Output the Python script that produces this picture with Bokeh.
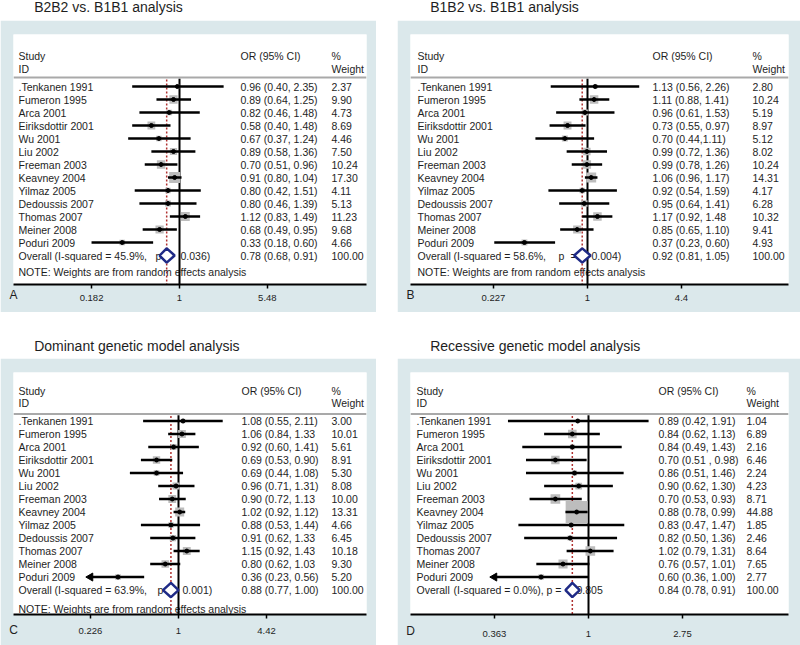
import math
from bokeh.plotting import figure
from bokeh.models import (Range1d, LinearScale, FixedTicker, CustomJSTickFormatter,
                          ColumnDataSource, Spacer)
from bokeh.layouts import row, column
from bokeh.core.properties import value
from bokeh.embed import file_html
from bokeh.resources import INLINE

FONT = "Liberation Sans"

# ---------------- data ----------------
studies = [".Tenkanen 1991", "Fumeron 1995", "Arca 2001", "Eiriksdottir 2001", "Wu 2001",
           "Liu 2002", "Freeman 2003", "Keavney 2004", "Yilmaz 2005", "Dedoussis 2007",
           "Thomas 2007", "Meiner 2008", "Poduri 2009"]

# A: B2B2 vs. B1B1
a_or = [0.96, 0.89, 0.82, 0.58, 0.67, 0.89, 0.70, 0.91, 0.80, 0.80, 1.12, 0.68, 0.33]
a_lo = [0.40, 0.64, 0.46, 0.40, 0.37, 0.58, 0.51, 0.80, 0.42, 0.46, 0.83, 0.49, 0.182]
a_hi = [2.35, 1.25, 1.48, 0.84, 1.24, 1.36, 0.96, 1.04, 1.51, 1.39, 1.49, 0.95, 0.60]
a_wt = [2.37, 9.90, 4.73, 8.69, 4.46, 7.50, 10.24, 17.30, 4.11, 5.13, 11.23, 9.68, 4.66]
a_ci = ["0.96 (0.40, 2.35)", "0.89 (0.64, 1.25)", "0.82 (0.46, 1.48)", "0.58 (0.40, 1.48)",
        "0.67 (0.37, 1.24)", "0.89 (0.58, 1.36)", "0.70 (0.51, 0.96)", "0.91 (0.80, 1.04)",
        "0.80 (0.42, 1.51)", "0.80 (0.46, 1.39)", "1.12 (0.83, 1.49)", "0.68 (0.49, 0.95)",
        "0.33 (0.18, 0.60)"]
a_overall = [0.78, 0.68, 0.91]
a_overall_ci = "0.78 (0.68, 0.91)"
a_overall_parts = ["Overall", "(I-squared = 45.9%,", "p =", "0.036)"]
a_ticks = [0.182, 1, 5.48]
a_tick_labels = ["0.182", "1", "5.48"]

# B: B1B2 vs. B1B1
b_or = [1.13, 1.11, 0.96, 0.73, 0.70, 0.99, 0.99, 1.06, 0.92, 0.95, 1.17, 0.85, 0.37]
b_lo = [0.56, 0.88, 0.61, 0.55, 0.44, 0.72, 0.78, 0.96, 0.54, 0.64, 0.92, 0.65, 0.23]
b_hi = [2.26, 1.41, 1.53, 0.97, 1.11, 1.36, 1.26, 1.17, 1.59, 1.41, 1.48, 1.10, 0.60]
b_wt = [2.80, 10.24, 5.19, 8.97, 5.12, 8.02, 10.24, 14.31, 4.17, 6.28, 10.32, 9.41, 4.93]
b_ci = ["1.13 (0.56, 2.26)", "1.11 (0.88, 1.41)", "0.96 (0.61, 1.53)", "0.73 (0.55, 0.97)",
        "0.70 (0.44,1.11)", "0.99 (0.72, 1.36)", "0.99 (0.78, 1.26)", "1.06 (0.96, 1.17)",
        "0.92 (0.54, 1.59)", "0.95 (0.64, 1.41)", "1.17 (0.92, 1.48", "0.85 (0.65, 1.10)",
        "0.37 (0.23, 0.60)"]
b_overall = [0.92, 0.81, 1.05]
b_overall_ci = "0.92 (0.81, 1.05)"
b_overall_parts = ["Overall", "(I-squared = 58.6%,", "p", "=", "0.004)"]
b_ticks = [0.227, 1, 4.4]
b_tick_labels = ["0.227", "1", "4.4"]

# C: dominant model
c_or = [1.08, 1.06, 0.92, 0.69, 0.69, 0.96, 0.90, 1.02, 0.88, 0.91, 1.15, 0.80, 0.36]
c_lo = [0.55, 0.84, 0.60, 0.53, 0.44, 0.71, 0.72, 0.92, 0.53, 0.62, 0.92, 0.62, 0.225]
c_hi = [2.11, 1.33, 1.41, 0.90, 1.08, 1.31, 1.13, 1.12, 1.44, 1.33, 1.43, 1.03, 0.56]
c_wt = [3.00, 10.01, 5.61, 8.91, 5.30, 8.08, 10.00, 13.31, 4.66, 6.45, 10.18, 9.30, 5.20]
c_ci = ["1.08 (0.55, 2.11)", "1.06 (0.84, 1.33", "0.92 (0.60, 1.41)", "0.69 (0.53, 0.90)",
        "0.69 (0.44, 1.08)", "0.96 (0.71, 1.31)", "0.90 (0.72, 1.13", "1.02 (0.92, 1.12)",
        "0.88 (0.53, 1.44)", "0.91 (0.62, 1.33", "1.15 (0.92, 1.43", "0.80 (0.62, 1.03",
        "0.36 (0.23, 0.56)"]
c_overall = [0.88, 0.77, 1.00]
c_overall_ci = "0.88 (0.77, 1.00)"
c_overall_parts = ["Overall", "(I-squared = 63.9%,", "p =", "0.001)"]
c_ticks = [0.226, 1, 4.42]
c_tick_labels = ["0.226", "1", "4.42"]

# D: recessive model
d_or = [0.89, 0.84, 0.84, 0.70, 0.86, 0.90, 0.70, 0.88, 0.83, 0.82, 1.02, 0.76, 0.60]
d_lo = [0.42, 0.62, 0.49, 0.51, 0.51, 0.62, 0.53, 0.78, 0.47, 0.50, 0.79, 0.57, 0.36]
d_hi = [1.91, 1.13, 1.43, 0.98, 1.46, 1.30, 0.93, 0.99, 1.47, 1.36, 1.31, 1.01, 1.00]
d_wt = [1.04, 6.89, 2.16, 6.46, 2.24, 4.23, 8.71, 44.88, 1.85, 2.46, 8.64, 7.65, 2.77]
d_ci = ["0.89 (0.42, 1.91)", "0.84 (0.62, 1.13)", "0.84 (0.49, 1.43)", "0.70 (0.51 , 0.98)",
        "0.86 (0.51, 1.46)", "0.90 (0.62, 1.30)", "0.70 (0.53, 0.93)", "0.88 (0.78, 0.99)",
        "0.83 (0.47, 1.47)", "0.82 (0.50, 1.36)", "1.02 (0.79, 1.31)", "0.76 (0.57, 1.01)",
        "0.60 (0.36, 1.00)"]
d_overall = [0.84, 0.78, 0.91]
d_overall_ci = "0.84 (0.78, 0.91)"
d_overall_parts = ["Overall", "(I-squared = 0.0%), p =", "0.805"]
d_ticks = [0.363, 1, 2.75]
d_tick_labels = ["0.363", "1", "2.75"]

note_text = "NOTE: Weights are from random effects analysis"

# ---------------- styling / layout ----------------
BG = "#dbe8eb"
TXT = "#1e1e1e"
NAVY = "#1f2a86"
RED = "#b0302f"
BOXC = "#bdbdbd"
FS = "10.5px"

TOP_ROWS = dict(top=-4.0, bottom=15.23, study=-2.38, idr=-1.38, sep=-0.69, note=14.3)
BOT_ROWS = dict(top=-3.73, bottom=14.88, study=-2.27, idr=-1.35, sep=-0.54, note=14.42)


def header(text, width, height, tx, ty):
    h = figure(width=width, height=height, x_range=Range1d(0, width), y_range=Range1d(height, 0),
               output_backend="svg", toolbar_location=None, x_axis_location=None,
               y_axis_location=None, min_border=0, title=None)
    h.outline_line_color = None
    h.grid.visible = False
    h.background_fill_color = "white"
    h.border_fill_color = "white"
    h.text(x=[tx], y=[ty], text=[text], text_font=value(FONT), text_font_size="14px",
           text_color=TXT, text_baseline="middle")
    return h


def body(or_, lo, hi, wt, ci, ov, ov_ci, ov_parts, ov_x, ticks, tick_labels, note,
         width, height, bl, br, bt, bb, xr, text_x, rows, box_k, standoff, letter, letter_standoff):
    fw = width - bl - br
    p = figure(width=width, height=height, x_axis_type="log", x_range=Range1d(*xr),
               y_range=Range1d(rows["bottom"], rows["top"]), output_backend="svg",
               toolbar_location=None, y_axis_location=None, title=None,
               min_border_left=bl, min_border_right=br, min_border_top=bt, min_border_bottom=bb)
    p.extra_x_ranges = {"px": Range1d(0, fw)}
    p.extra_x_scales = {"px": LinearScale()}
    p.grid.visible = False
    p.outline_line_color = None
    p.background_fill_color = "white"
    p.border_fill_color = BG

    ax = p.xaxis[0]
    ax.ticker = FixedTicker(ticks=ticks)
    ax.formatter = CustomJSTickFormatter(args=dict(labs=tick_labels), code="return labs[index];")
    ax.axis_line_width = 2
    ax.axis_line_color = "black"
    ax.major_tick_in = 0
    ax.major_tick_out = 4
    ax.major_tick_line_width = 1.5
    ax.minor_tick_line_color = None
    ax.major_label_text_font = FONT
    ax.major_label_text_font_size = "9.5px"
    ax.major_label_text_color = TXT
    ax.major_label_standoff = standoff
    # panel letter as the axis label, pulled up onto the tick-label line, at the axis start
    ax.axis_label = letter
    ax.axis_label_text_font = FONT
    ax.axis_label_text_font_size = "12px"
    ax.axis_label_text_font_style = "normal"
    ax.axis_label_text_color = TXT
    ax.axis_label_standoff = letter_standoff
    if "axis_label_align" in ax.properties():
        ax.axis_label_align = "start"

    n = len(or_)
    rws = list(range(n))
    xn, xo, xw = text_x

    def txt(xs, ys, texts):
        p.text(x=xs, y=ys, text=texts, x_range_name="px", text_font=value(FONT),
               text_font_size=FS, text_color=TXT, text_baseline="middle")

    # text columns
    txt([xn] * n, rws, studies)
    txt(ov_x, [n] * len(ov_parts), ov_parts)
    if note:
        txt([xn], [rows["note"]], [note_text])
    txt([xo] * (n + 1), rws + [n], ci + [ov_ci])
    txt([xw] * (n + 1), rws + [n], ["%.2f" % w for w in wt] + ["100.00"])
    txt([xn, xn, xo, xw, xw], [rows["study"], rows["idr"], rows["study"], rows["study"], rows["idr"]],
        ["Study", "ID", "OR (95% CI)", "%", "Weight"])
    p.segment(x0=[0], x1=[fw], y0=[rows["sep"]], y1=[rows["sep"]], x_range_name="px",
              line_color="#a9a9a9", line_width=2)

    # reference lines
    p.segment(x0=[1], x1=[1], y0=[rows["sep"] + 0.1], y1=[rows["bottom"]], line_color="black", line_width=2)
    p.segment(x0=[ov[0]], x1=[ov[0]], y0=[rows["sep"] + 0.15], y1=[rows["bottom"]], line_color=RED,
              line_width=1.5, line_dash="2 2")

    tmin, tmax = min(ticks), max(ticks)
    lo_c = [max(v, tmin) for v in lo]
    hi_c = [min(v, tmax) for v in hi]
    src = ColumnDataSource(dict(y=rws, est=or_, lo=lo_c, hi=hi_c,
                                sz=[box_k * math.sqrt(w) for w in wt]))
    p.scatter(x="est", y="y", size="sz", marker="square", fill_color=BOXC, line_color=None, source=src)
    p.segment(x0="lo", x1="hi", y0="y", y1="y", line_color="black", line_width=2.5, source=src)
    p.scatter(x="est", y="y", size=4, marker="circle", fill_color="black", line_color="black", source=src)
    arr = [i for i in rws if lo[i] < tmin]
    if arr:
        p.scatter(x=[tmin] * len(arr), y=arr, marker="triangle", angle=math.pi / 2, size=8,
                  fill_color="black", line_color="black")

    # overall diamond
    h = 0.55
    p.patch(x=[ov[1], ov[0], ov[2], ov[0]], y=[n, n - h, n, n + h], fill_color="white",
            line_color=NAVY, line_width=2.5)
    return p


LW, RW = 376, 403
H1, B1, H2, B2 = 20, 292, 46, 287

hA = header("B2B2 vs. B1B1 analysis", LW, H1, 22, 6)
hB = header("B1B2 vs. B1B1 analysis", RW, H1, 21, 6)
hC = header("Dominant genetic model analysis", LW, H2, 22, 33)
hD = header("Recessive genetic model analysis", RW, H2, 21, 33)

pA = body(a_or, a_lo, a_hi, a_wt, a_ci, a_overall, a_overall_ci, a_overall_parts, [5, 41, 142, 167],
          a_ticks, a_tick_labels, True, LW, B1, 13, 10, 14, 28, (0.04016, 37.38),
          (5, 227, 318), TOP_ROWS, 2.64, 6, "A", -16)
pB = body(b_or, b_lo, b_hi, b_wt, b_ci, b_overall, b_overall_ci, b_overall_parts, [7, 43, 148, 160, 181],
          b_ticks, b_tick_labels, True, RW, B1, 13, 12, 14, 28, (0.0614, 23.78),
          (7, 242, 342), TOP_ROWS, 2.64, 6, "B", -16)
pC = body(c_or, c_lo, c_hi, c_wt, c_ci, c_overall, c_overall_ci, c_overall_parts, [5, 41, 144, 169],
          c_ticks, c_tick_labels, True, LW, B2, 13, 10, 14, 31, (0.0616, 23.94),
          (5, 228, 318), BOT_ROWS, 2.47, 9, "C", -14)
pD = body(d_or, d_lo, d_hi, d_wt, d_ci, d_overall, d_overall_ci, d_overall_parts, [6, 43, 166],
          d_ticks, d_tick_labels, False, RW, B2, 13, 12, 14, 31, (0.1470, 8.62),
          (6, 248, 336), BOT_ROWS, 3.28, 12, "D", -16)

layout = row(column(hA, pA, hC, pC), Spacer(width=21, height=645), column(hB, pB, hD, pD))

open("out.html", "w").write(file_html(layout, INLINE))
